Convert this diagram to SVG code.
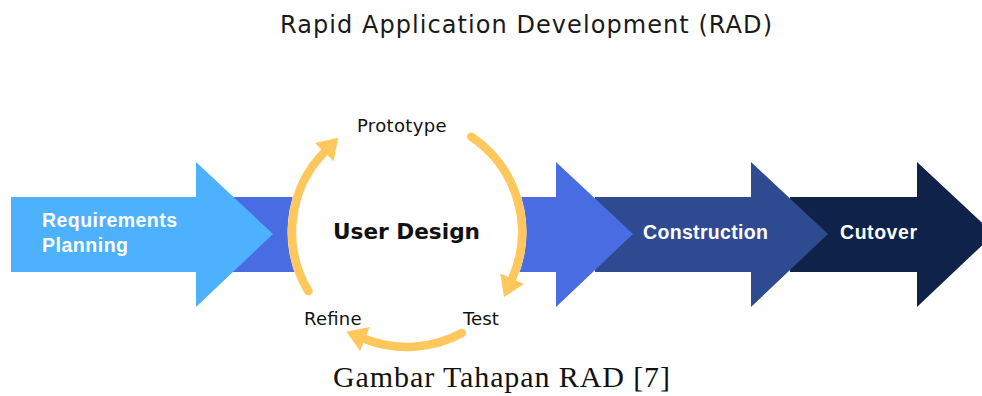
<svg xmlns="http://www.w3.org/2000/svg" width="982" height="396" viewBox="0 0 982 396">
  <style>
    .sans { font-family: "DejaVu Sans", Verdana, sans-serif; }
    .phase { font-family: "Liberation Sans", Arial, sans-serif; font-weight: bold; font-size: 19.5px; fill: #ffffff; }
    .step { font-family: "DejaVu Sans", Verdana, sans-serif; font-size: 18px; fill: #111111; }
    .cycle { fill: none; stroke: #ffc75c; stroke-width: 8.5; stroke-linecap: round; marker-end: url(#head); }
  </style>
  <defs>
    <marker id="head" markerUnits="userSpaceOnUse" markerWidth="22" markerHeight="28" refX="0" refY="13" orient="auto" overflow="visible">
      <path d="M0,0 L20,13 L0,26 z" fill="#ffc75c"/>
    </marker>
  </defs>

  <rect width="982" height="396" fill="#ffffff"/>

  <!-- title -->
  <text class="sans" x="280" y="33.3" font-size="24" fill="#1a1a1a" textLength="492" lengthAdjust="spacing">Rapid Application Development (RAD)</text>

  <!-- phase arrows, drawn right to left so each head sits over the next shaft -->
  <g id="cutover">
    <polygon points="790,197 917,197 917,162 994,234 917,307 917,272 790,272" fill="#0f2249"/>
    <text class="phase" x="840" y="238.5" textLength="77" lengthAdjust="spacing">Cutover</text>
  </g>
  <g id="construction">
    <polygon points="595,197 751,197 751,162 828,234 751,307 751,272 595,272" fill="#2e4a91"/>
    <text class="phase" x="643" y="238.5" textLength="125" lengthAdjust="spacing">Construction</text>
  </g>
  <g id="user-design-band">
    <polygon points="230,197 556,197 556,162 633,234 556,307 556,272 230,272" fill="#4a6ce2"/>
  </g>
  <g id="requirements-planning">
    <polygon points="11,197 196,197 196,162 273,234 196,307 196,272 11,272" fill="#4eb1fd"/>
    <text class="phase" x="42" y="227.3" textLength="135" lengthAdjust="spacing">Requirements</text>
    <text class="phase" x="42" y="251.7" textLength="86" lengthAdjust="spacing">Planning</text>
  </g>

  <!-- user design cycle -->
  <g id="user-design">
    <circle cx="407" cy="232" r="119.5" fill="#ffffff"/>
    <text class="sans" x="333" y="239.3" font-size="22" font-weight="bold" fill="#111111" textLength="147" lengthAdjust="spacingAndGlyphs">User Design</text>
  </g>
  <g id="prototype">
    <text class="step" x="357" y="131.7" textLength="89.5" lengthAdjust="spacing">Prototype</text>
  </g>
  <g id="test">
    <text class="step" x="463" y="325" textLength="36" lengthAdjust="spacingAndGlyphs">Test</text>
  </g>
  <g id="refine">
    <text class="step" x="304" y="325" textLength="57.5" lengthAdjust="spacing">Refine</text>
  </g>

  <g id="connectors">
    <!-- refine -> prototype -->
    <path class="cycle" d="M308.4,291.2 A115,115 0 0 1 324.3,152.1"/>
    <!-- prototype -> test -->
    <path class="cycle" d="M471.3,136.7 A115,115 0 0 1 512.1,278.8"/>
    <!-- test -> refine -->
    <path class="cycle" d="M461.9,333.1 A115,115 0 0 1 364.9,339.0"/>
  </g>

  <!-- caption -->
  <text x="333" y="386.7" font-family="'Liberation Serif', 'Times New Roman', serif" font-size="30" fill="#111111" textLength="337" lengthAdjust="spacing">Gambar Tahapan RAD [7]</text>
</svg>
